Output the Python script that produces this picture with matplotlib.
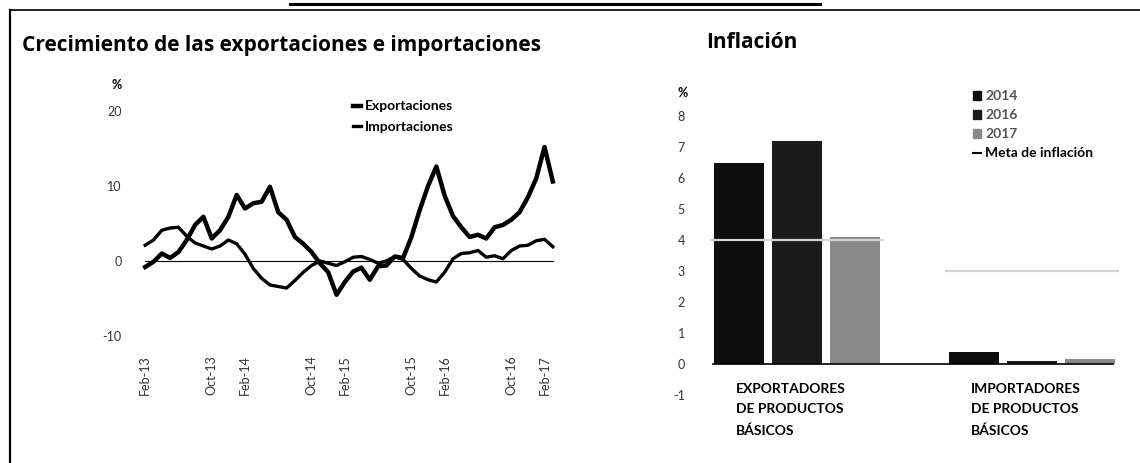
import matplotlib
matplotlib.use("Agg")
import matplotlib.pyplot as plt
from matplotlib.lines import Line2D
from matplotlib.patches import Patch
import numpy as np

plt.rcParams["font.family"] = ["Lato", "DejaVu Sans"]

# --- datos: crecimiento mensual (feb-13 a mar-17), %
exportaciones = [-0.8, -0.1, 1.0, 0.4, 1.2, 2.8, 4.8, 5.9, 3.0, 4.1,
                 5.9, 8.8, 7.0, 7.7, 7.9, 9.9, 6.5, 5.5, 3.2, 2.3,
                 1.2, -0.3, -1.5, -4.5, -2.8, -1.4, -0.9, -2.5, -0.7, -0.6,
                 0.6, 0.4, 3.2, 6.8, 10.0, 12.6, 8.7, 6.0, 4.5, 3.2,
                 3.5, 3.0, 4.5, 4.8, 5.5, 6.5, 8.5, 11.0, 15.2, 10.6]
importaciones = [2.1, 2.8, 4.1, 4.4, 4.5, 3.3, 2.4, 2.0, 1.6, 2.0,
                 2.8, 2.3, 0.9, -1.0, -2.3, -3.2, -3.4, -3.6, -2.6, -1.5,
                 -0.6, 0.0, -0.3, -0.6, -0.1, 0.5, 0.6, 0.2, -0.3, 0.0,
                 0.6, 0.2, -1.0, -2.0, -2.5, -2.8, -1.5, 0.3, 1.0, 1.1,
                 1.4, 0.5, 0.7, 0.3, 1.4, 2.0, 2.1, 2.7, 2.9, 1.9]
meses_ticks = [0, 8, 12, 20, 24, 32, 36, 44, 48]
etiquetas_ticks = ["Feb-13", "Oct-13", "Feb-14", "Oct-14", "Feb-15",
                   "Oct-15", "Feb-16", "Oct-16", "Feb-17"]

# --- datos: inflación, %
grupos = ["EXPORTADORES\nDE PRODUCTOS\nBÁSICOS", "IMPORTADORES\nDE PRODUCTOS\nBÁSICOS"]
anios = ["2014", "2016", "2017"]
inflacion = {
    "2014": [6.5, 0.4],
    "2016": [7.2, 0.1],
    "2017": [4.1, 0.15],
}
meta_inflacion = [4.0, 3.0]

W, H = 1140, 463
fig = plt.figure(figsize=(W / 100, H / 100), dpi=100)


def fx(px):
    return px / W


def fy(py):
    return 1 - py / H


# marco de la página escaneada
fig.add_artist(Line2D([fx(10), fx(10)], [fy(10), 0], color="black", lw=1.6))
fig.add_artist(Line2D([fx(10), 1], [fy(10), fy(10)], color="black", lw=1.2))
fig.add_artist(Line2D([fx(290), fx(820)], [fy(4), fy(4)], color="black", lw=2.2))

# títulos
fig.text(fx(22), fy(45), "Crecimiento de las exportaciones e importaciones",
         fontsize=15, fontweight="bold", va="center", ha="left",
         family=["Open Sans", "DejaVu Sans"])
fig.text(fx(706), fy(42), "Inflación", fontsize=15, fontweight="bold",
         va="center", ha="left", family=["Open Sans", "DejaVu Sans"])

# ---------------- gráfico izquierdo ----------------
ax1 = fig.add_axes([fx(141), fy(336), fx(557 - 141), (336 - 111) / H])
meses = np.arange(len(exportaciones))
ax1.plot(meses, exportaciones, color="black", lw=3.2, label="Exportaciones",
         solid_joinstyle="round")
ax1.plot(meses, importaciones, color="black", lw=2.4, label="Importaciones",
         solid_joinstyle="round")
ax1.axhline(0, xmin=0.01, xmax=0.99, color="black", lw=0.8, zorder=0)
ax1.set_xlim(-0.5, 49.5)
ax1.set_ylim(-10, 20)
ax1.set_yticks([-10, 0, 10, 20])
ax1.set_yticklabels(["-10", "0", "10", "20"])
ax1.set_xticks(meses_ticks)
ax1.set_xticklabels(etiquetas_ticks, rotation=90)
ax1.tick_params(axis="y", length=0, pad=14, labelsize=9, labelcolor="#333333")
ax1.tick_params(axis="x", length=0, pad=14, labelsize=9, labelcolor="#333333")
for s in ax1.spines.values():
    s.set_visible(False)
fig.text(fx(117), fy(85), "%", fontsize=9, fontweight="bold", ha="center", va="center")
ax1.legend(loc="upper left", bbox_to_anchor=(fx(340), fy(88)),
           bbox_transform=fig.transFigure, frameon=False, handlelength=0.6,
           handletextpad=0.3, labelspacing=0.6,
           prop={"weight": "bold", "size": 10})

# ---------------- gráfico derecho ----------------
ax2 = fig.add_axes([fx(696), fy(395), fx(1126 - 696), (395 - 116) / H])
x = np.arange(len(grupos))
ancho = 0.213
paso = 0.247
colores = {"2014": "#0d0d0d", "2016": "#1c1c1c", "2017": "#8a8a8a"}
for i, a in enumerate(anios):
    ax2.bar(x + (i - 1) * paso, inflacion[a], width=ancho, color=colores[a],
            label=a, zorder=2)
ax2.hlines(meta_inflacion, x - 0.37, x + 0.37, color="#d4d4d4", lw=1.6, zorder=3,
           label="Meta de inflación")
ax2.axhline(0, xmin=0.04, xmax=0.97, color="black", lw=1.2, zorder=4)
ax2.set_xlim(-0.43, 1.4)
ax2.set_ylim(-1, 8)
ax2.set_yticks(range(-1, 9))
ax2.set_yticklabels([str(v) for v in range(-1, 9)])
ax2.tick_params(axis="y", length=0, pad=8, labelsize=9, labelcolor="#333333")
ax2.set_xticks([])
for s in ax2.spines.values():
    s.set_visible(False)
fig.text(fx(683), fy(93), "%", fontsize=9, fontweight="bold", ha="center", va="center")
for xi, g in zip(x, grupos):
    ax2.text(xi - 0.26, -0.6, g, ha="left", va="top", fontsize=10,
             fontweight="bold", linespacing=1.85)

handles = [Patch(color=colores[a]) for a in anios]
handles.append(Line2D([], [], color="black", lw=1.5))
etiquetas = anios + ["Meta de inflación"]
leg = ax2.legend(handles, etiquetas, loc="upper left",
                 bbox_to_anchor=(fx(960), fy(78)), bbox_transform=fig.transFigure,
                 frameon=False, handlelength=0.6, handleheight=0.6,
                 handletextpad=0.3, labelspacing=0.5,
                 prop={"weight": "bold", "size": 10})
for t in leg.get_texts()[:3]:
    t.set_color("#555555")

fig.savefig("out.png", dpi=100)
